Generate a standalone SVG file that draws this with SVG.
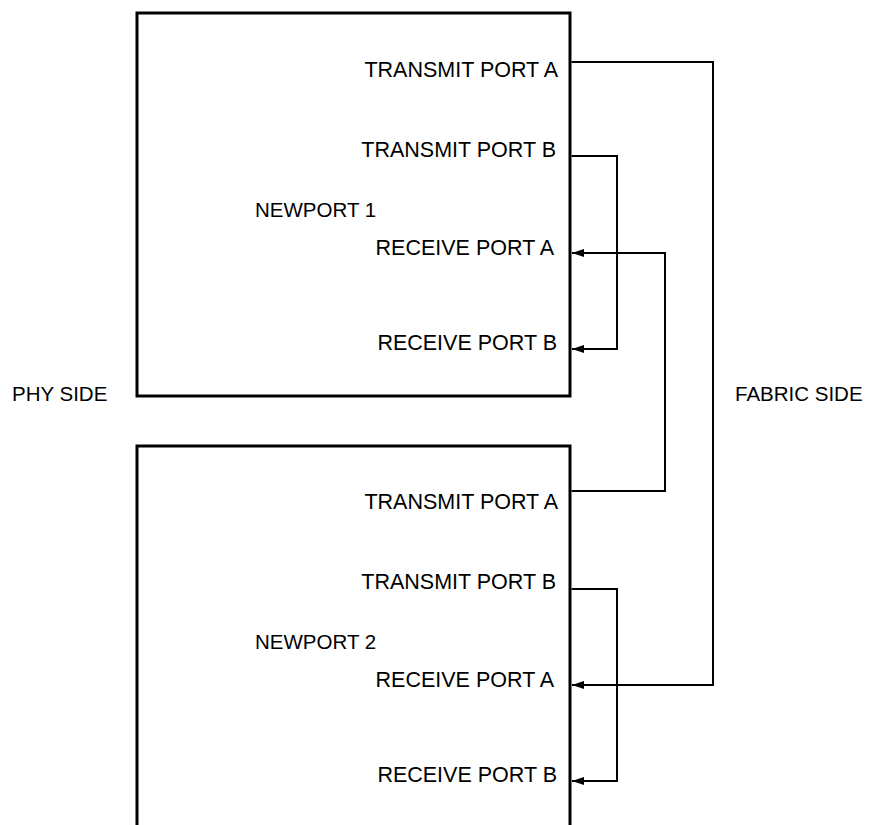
<svg xmlns="http://www.w3.org/2000/svg" width="869" height="825" viewBox="0 0 869 825">
  <style>
    .box { fill: none; stroke: #000; stroke-width: 3; }
    .wire { fill: none; stroke: #000; stroke-width: 2; }
    .lbl { font-family: "Liberation Sans", Arial, sans-serif; font-size: 20.5px; fill: #000; }
    .port { text-anchor: end; font-size: 21.5px; }
  </style>
  <defs>
    <marker id="arr" viewBox="0 0 12 8" refX="12" refY="4" markerWidth="12" markerHeight="8" markerUnits="userSpaceOnUse" orient="auto">
      <path d="M0,0 L12,4 L0,8 Z" fill="#000"/>
    </marker>
  </defs>
  <rect width="869" height="825" fill="#fff"/>

  <g id="newport1">
    <rect class="box" x="137" y="13" width="433" height="383"/>
    <text class="lbl port" x="558" y="77">TRANSMIT PORT A</text>
    <text class="lbl port" x="556" y="157">TRANSMIT PORT B</text>
    <text class="lbl" x="255" y="217">NEWPORT 1</text>
    <text class="lbl port" x="554" y="255">RECEIVE PORT A</text>
    <text class="lbl port" x="557" y="350">RECEIVE PORT B</text>
  </g>

  <g id="newport2">
    <path class="box" d="M137,826 V446 H570 V826"/>
    <text class="lbl port" x="558" y="509">TRANSMIT PORT A</text>
    <text class="lbl port" x="556" y="589">TRANSMIT PORT B</text>
    <text class="lbl" x="255" y="649">NEWPORT 2</text>
    <text class="lbl port" x="554" y="687">RECEIVE PORT A</text>
    <text class="lbl port" x="557" y="782">RECEIVE PORT B</text>
  </g>

  <g id="side-labels">
    <text class="lbl" x="12" y="401">PHY SIDE</text>
    <text class="lbl" x="735" y="401">FABRIC SIDE</text>
  </g>

  <g id="connectors">
    <path class="wire" d="M571.5,62 H713 V685 H572" marker-end="url(#arr)"/>
    <path class="wire" d="M571.5,156 H617 V349 H572" marker-end="url(#arr)"/>
    <path class="wire" d="M571.5,491 H665 V253 H572" marker-end="url(#arr)"/>
    <path class="wire" d="M571.5,589 H617 V781 H572" marker-end="url(#arr)"/>
  </g>
</svg>
